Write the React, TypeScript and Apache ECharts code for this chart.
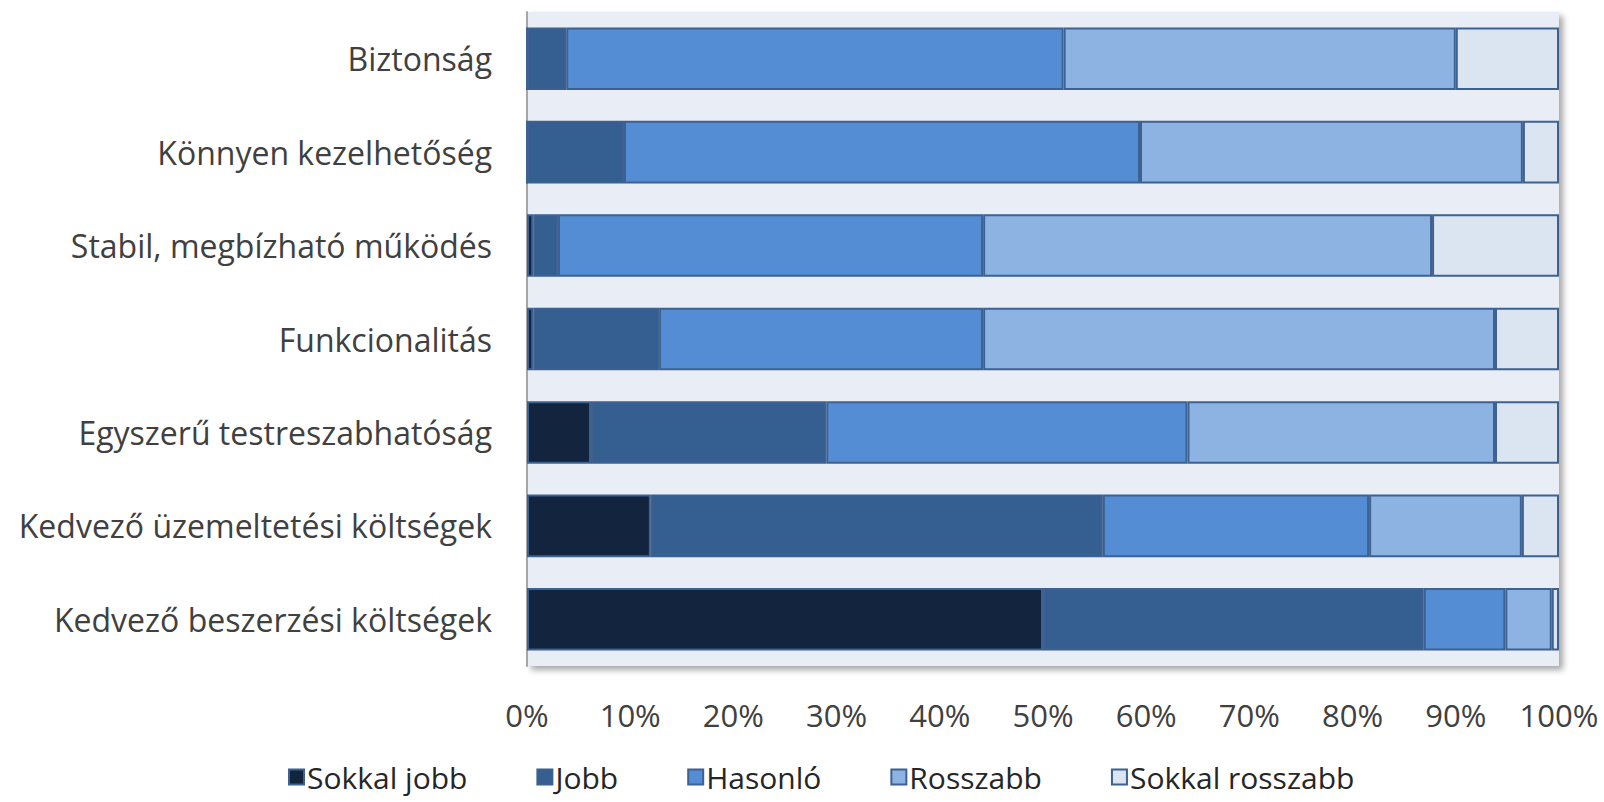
import React, { useEffect, useRef } from "react";
import * as echarts from "echarts";

const categories = [
  "Biztonság",
  "Könnyen kezelhetőség",
  "Stabil, megbízható működés",
  "Funkcionalitás",
  "Egyszerű testreszabhatóság",
  "Kedvező üzemeltetési költségek",
  "Kedvező beszerzési költségek",
];

const seriesNames = ["Sokkal jobb", "Jobb", "Hasonló", "Rosszabb", "Sokkal rosszabb"];

const sokkalJobb = [0, 0, 0.6, 0.6, 6.2, 12.0, 50.0];
const jobb = [3.8, 9.4, 2.4, 12.2, 22.8, 43.8, 36.9];
const hasonlo = [48.2, 50.0, 41.2, 31.4, 35.0, 25.8, 7.9];
const rosszabb = [38.0, 37.1, 43.5, 49.6, 29.8, 14.8, 4.5];
const sokkalRosszabb = [10.0, 3.5, 12.3, 6.2, 6.2, 3.6, 0.7];

const tickValues = [0, 10, 20, 30, 40, 50, 60, 70, 80, 90, 100];

const colors = ["#12243e", "#365f91", "#548dd4", "#8db3e2", "#dbe5f1"];
const FONT = "'Open Sans', Lato, sans-serif";

export default function App() {
  const ref = useRef<HTMLDivElement>(null);
  useEffect(() => {
    if (!ref.current) return;
    const chart = echarts.init(ref.current, undefined, { renderer: "svg" });
    const data = [sokkalJobb, jobb, hasonlo, rosszabb, sokkalRosszabb];
    chart.setOption({
      animation: false,
      backgroundColor: "#ffffff",
      grid: {
        left: 527,
        right: 45,
        top: 12,
        bottom: 136,
        show: true,
        backgroundColor: "#e9edf5",
        borderWidth: 0,
        shadowColor: "rgba(0,0,0,0.35)",
        shadowBlur: 6,
        shadowOffsetX: 4,
        shadowOffsetY: 4,
      },
      legend: {
        left: 288,
        top: 760,
        padding: 0,
        icon: "rect",
        itemWidth: 15,
        itemHeight: 15,
        itemGap: 69,
        data: seriesNames,
        textStyle: {
          fontFamily: FONT,
          fontSize: 30,
          lineHeight: 34,
          color: "#262626",
          padding: [0, 0, 0, -2],
        },
      },
      xAxis: {
        type: "value",
        min: 0,
        max: 100,
        interval: 10,
        axisLine: { show: false },
        axisTick: { show: false },
        splitLine: { show: false },
        axisLabel: {
          formatter: (v: number) => (tickValues.includes(v) ? v + "%" : ""),
          fontFamily: FONT,
          fontSize: 31,
          color: "#404040",
          margin: 33,
        },
      },
      yAxis: {
        type: "category",
        data: categories,
        inverse: true,
        axisLine: { show: true, lineStyle: { color: "#a6a6a6", width: 2 } },
        axisTick: { show: false },
        splitLine: { show: false },
        axisLabel: {
          fontFamily: FONT,
          fontSize: 32,
          color: "#404040",
          margin: 35,
        },
      },
      series: seriesNames.map((name, i) => ({
        name,
        type: "bar",
        stack: "total",
        barCategoryGap: "33%",
        data: data[i],
        itemStyle: {
          color: colors[i],
          borderColor: "#3d6190",
          borderWidth: 2,
        },
      })),
    });
    return () => chart.dispose();
  }, []);
  return (
    <div
      ref={ref}
      style={{ position: "fixed", left: 0, top: 0, width: 1604, height: 802 }}
    />
  );
}
